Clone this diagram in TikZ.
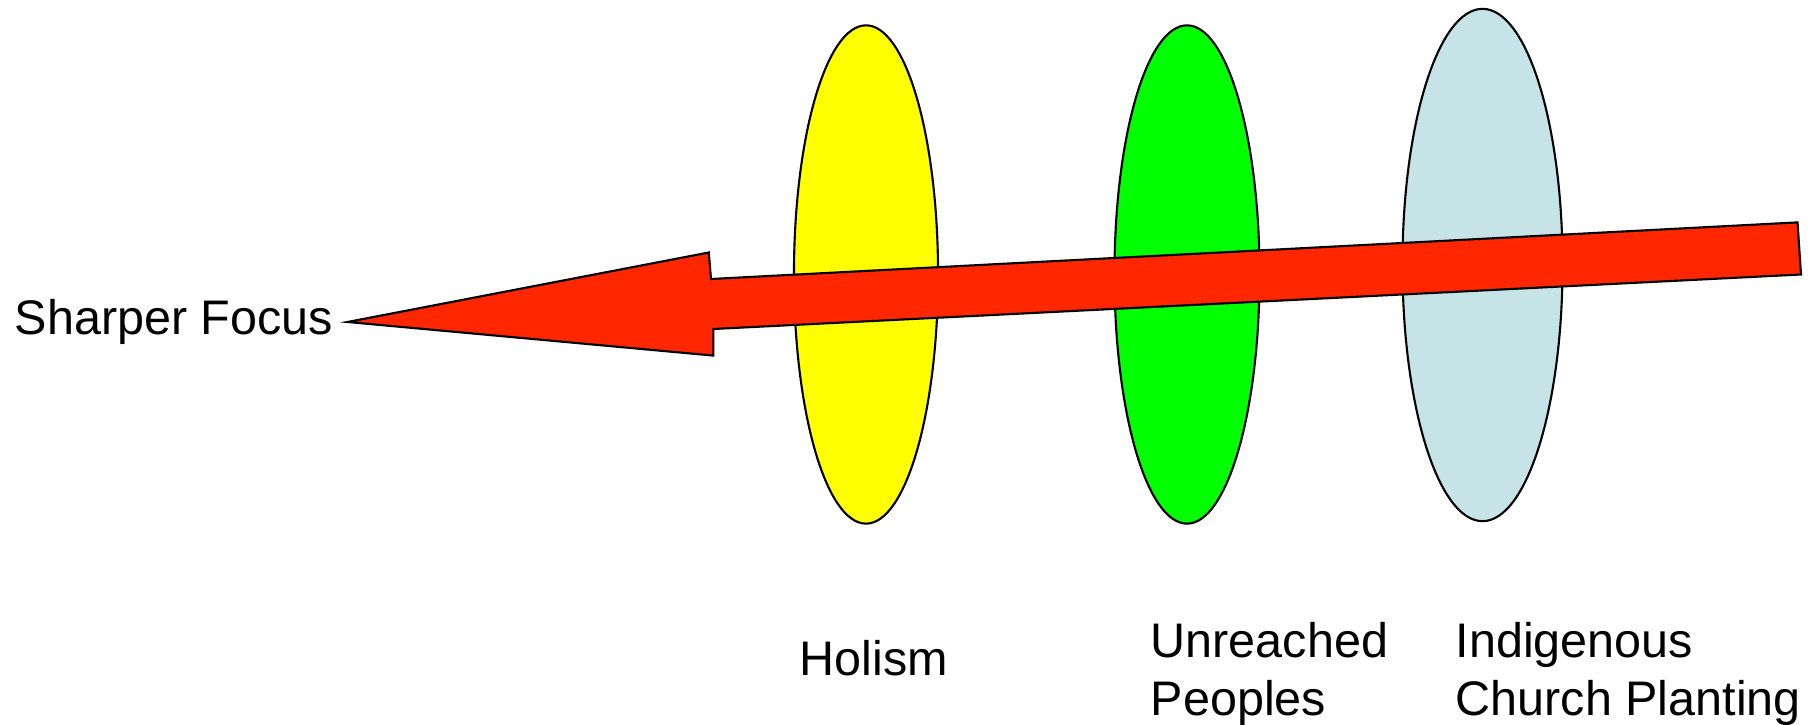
\documentclass[tikz,border=0pt]{standalone}
\usepackage{fontspec}
\setmainfont{Liberation Sans}
\usepackage{tikz}
\usetikzlibrary{shapes.geometric, positioning}
\definecolor{lensyellow}{RGB}{255,255,0}
\definecolor{lensgreen}{RGB}{0,255,0}
\definecolor{lensblue}{RGB}{198,228,232}
\definecolor{focusred}{RGB}{255,38,0}

\begin{document}
\begin{tikzpicture}[x=0.01cm, y=-0.01cm,
  lens/.style={ellipse, draw=black, line width=0.6pt, inner sep=0pt},
  caption/.style={anchor=west, align=left, inner sep=0pt, font=\fontsize{13.8}{16.6}\selectfont}]
  \useasboundingbox (0,0) rectangle (1816,725);
  % the three lenses
  \node[lens, fill=lensyellow, minimum width=1.44cm, minimum height=4.98cm] (holism) at (866,274.5) {};
  \node[lens, fill=lensgreen, minimum width=1.45cm, minimum height=4.98cm] (unreached) at (1187,274.5) {};
  \node[lens, fill=lensblue, minimum width=1.60cm, minimum height=5.12cm] (church) at (1482.5,265) {};
  % arrow through the lenses
  \draw[fill=focusred, line width=0.6pt, line join=miter]
    (347.5,322) -- (708.8,252.5) -- (711,279) -- (1797.5,222.4)
    -- (1801,274.5) -- (713.4,329) -- (713.4,355.6) -- cycle;
  % labels
  \node[caption] (focus) at (14,322) {Sharper Focus};
  \node[caption] (holismtext) at (799,658) {Holism};
  \node[caption] (unreachedtext) at (1150,674) {Unreached\\Peoples};
  \node[caption] (churchtext) at (1455,674) {Indigenous\\Church Planting};
\end{tikzpicture}
\end{document}
